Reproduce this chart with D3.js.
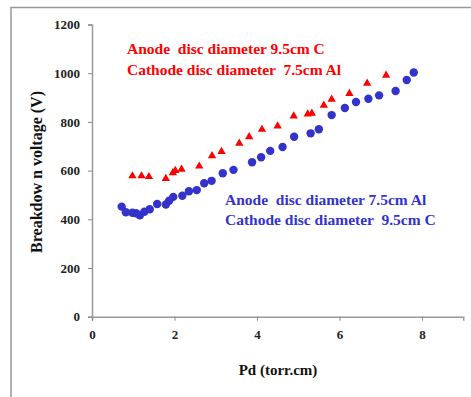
<!DOCTYPE html>
<html>
<head>
<meta charset="utf-8">
<script src="https://cdn.jsdelivr.net/npm/d3@7"></script>
</head>
<body style="margin:0; background:#fff">
<svg width="471" height="397" font-family="Liberation Serif" font-weight="bold"></svg>
<script>
// red triangles: anode 9.5cm C / cathode 7.5cm Al
var redPd = [0.98, 1.2, 1.38, 1.79, 1.96, 2.02, 2.17, 2.6, 2.91, 3.14, 3.57, 3.81, 4.12, 4.5, 4.89, 5.23, 5.33, 5.62, 5.81, 6.24, 6.67, 7.13];
var redV = [578, 578, 575, 567, 591, 600, 605, 618, 661, 678, 712, 739, 769, 783, 824, 832, 835, 868, 893, 916, 958, 991];

// blue circles: anode 7.5cm Al / cathode 9.5cm C
var bluePd = [0.72, 0.82, 0.98, 1.07, 1.16, 1.27, 1.4, 1.58, 1.79, 1.87, 1.97, 2.19, 2.35, 2.54, 2.72, 2.9, 3.17, 3.43, 3.88, 4.1, 4.32, 4.62, 4.9, 5.3, 5.5, 5.81, 6.13, 6.4, 6.7, 6.96, 7.36, 7.63, 7.8];
var blueV = [452, 429, 427, 425, 416, 431, 441, 463, 461, 476, 492, 497, 515, 520, 548, 558, 589, 603, 634, 655, 681, 697, 739, 753, 770, 828, 857, 882, 895, 909, 927, 972, 1003];

var xTicks = [0, 2, 4, 6, 8];
var yTicks = [0, 200, 400, 600, 800, 1000, 1200];

var redLabels = ["Anode  disc diameter 9.5cm C", "Cathode disc diameter  7.5cm Al"];
var blueLabels = ["Anode  disc diameter 7.5cm Al", "Cathode disc diameter  9.5cm C"];

var svg = d3.select("svg");
var serif = "'Liberation Serif', 'Times New Roman', serif";

// frame (only top + left edges show)
svg.append("path")
  .attr("d", "M11,397V7.5H471")
  .attr("fill", "none")
  .attr("stroke", "#999")
  .attr("stroke-width", 1.5);

var x = d3.scaleLinear().domain([0, 9]).range([92, 463.25]);
var y = d3.scaleLinear().domain([0, 1200]).range([316.7, 24.5]);

var xAxis = svg.append("g")
  .attr("transform", "translate(0," + y(0) + ")")
  .call(d3.axisBottom(x).tickValues(xTicks).tickSize(4).tickPadding(9).tickFormat(d3.format("d")));
var yAxis = svg.append("g")
  .attr("transform", "translate(" + x(0) + ",0)")
  .call(d3.axisLeft(y).tickValues(yTicks).tickSize(4).tickPadding(8).tickFormat(d3.format("d")));

[xAxis, yAxis].forEach(function(a) {
  a.attr("font-family", serif).attr("font-size", 13).attr("font-weight", "bold");
  a.select(".domain").attr("stroke", "#999").attr("stroke-width", 1.5);
  a.selectAll(".tick line").attr("stroke", "#888");
  a.selectAll(".tick text").attr("fill", "#222").attr("font-family", serif);
});

// axis titles
svg.append("text")
  .attr("x", 278).attr("y", 375)
  .attr("text-anchor", "middle")
  .attr("font-family", serif)
  .attr("font-size", 15)
  .attr("fill", "#111")
  .text("Pd (torr.cm)");

svg.append("text")
  .attr("transform", "translate(42,172) rotate(-90)")
  .attr("text-anchor", "middle")
  .attr("font-family", serif)
  .attr("font-size", 16)
  .attr("fill", "#111")
  .text("Breakdow n voltage (V)");

// points
var tri = d3.symbol().type(d3.symbolTriangle).size(30);
svg.append("g").selectAll("path")
  .data(d3.range(redPd.length))
  .join("path")
  .attr("d", tri)
  .attr("transform", function(i) { return "translate(" + x(redPd[i]) + "," + y(redV[i]) + ")"; })
  .attr("fill", "#ff0000");

svg.append("g").selectAll("circle")
  .data(d3.range(bluePd.length))
  .join("circle")
  .attr("cx", function(i) { return x(bluePd[i]); })
  .attr("cy", function(i) { return y(blueV[i]); })
  .attr("r", 4.2)
  .attr("fill", "#3333cc");

// series labels
svg.append("g").selectAll("text")
  .data(redLabels)
  .join("text")
  .attr("x", 127)
  .attr("y", function(d, i) { return 54 + i * 20.5; })
  .attr("fill", "#ff0000")
  .attr("font-family", serif)
  .attr("font-size", 15.5)
  .attr("xml:space", "preserve")
  .style("white-space", "pre")
  .text(function(d) { return d; });

svg.append("g").selectAll("text")
  .data(blueLabels)
  .join("text")
  .attr("x", 225)
  .attr("y", function(d, i) { return 204.5 + i * 20; })
  .attr("fill", "#3333cc")
  .attr("font-family", serif)
  .attr("font-size", 15.5)
  .attr("xml:space", "preserve")
  .style("white-space", "pre")
  .text(function(d) { return d; });
</script>
</body>
</html>
